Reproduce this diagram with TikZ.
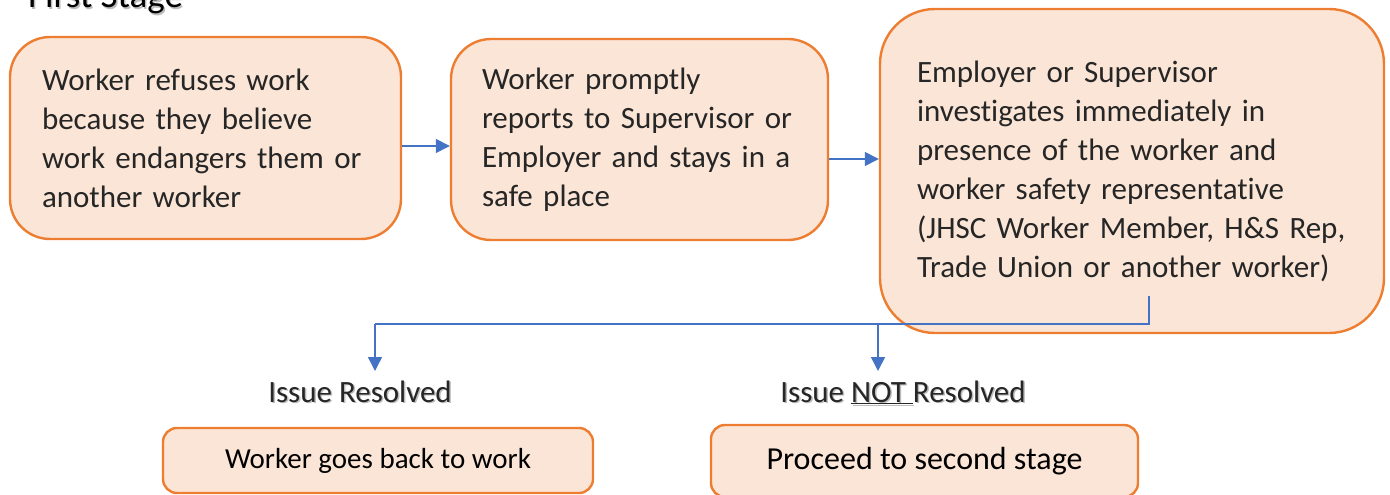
\documentclass[tikz,border=0pt]{standalone}
\usepackage{fontspec}
\setmainfont{Carlito}[Ligatures=CommonOff]
\usetikzlibrary{arrows.meta,calc}
\definecolor{boxfill}{HTML}{FBE5D6}
\definecolor{boxline}{HTML}{ED7D31}
\definecolor{flow}{HTML}{4472C4}
\definecolor{shade}{HTML}{BDBDBD}
\tikzset{
  stepbox/.style={draw=boxline, fill=boxfill, line width=2.4pt, align=left,
    inner xsep=0pt, inner ysep=0pt, font=\fontsize{31}{39}\selectfont, text=black!85},
  endbox/.style={draw=boxline, fill=boxfill, line width=2.4pt, rounded corners=14pt,
    inner sep=0pt, text=black},
  outcome/.style={inner sep=0pt, anchor=base, font=\fontsize{31}{37}\selectfont, text=black!85},
  outshadow/.style={inner sep=0pt, anchor=base, font=\fontsize{31}{37}\selectfont, text=shade},
  arr/.style={draw=flow, line width=1.5pt, -{Triangle[length=14pt,width=14pt]}},
  link/.style={draw=flow, line width=1.3pt},
}
\begin{document}
\begin{tikzpicture}[x=1pt,y=-1pt]
\useasboundingbox (0,0) rectangle (1390,495);

% title
\node[inner sep=0pt, anchor=base west, font=\fontsize{37}{40}\selectfont, text=shade] at (29.5,9.5) {First Stage};
\node[inner sep=0pt, anchor=base west, font=\fontsize{37}{40}\selectfont] (title) at (28,8) {First Stage};

% first-stage steps
\node[stepbox, rounded corners=40pt, minimum width=391pt, minimum height=202pt,
      text width=327pt, inner xsep=32pt] (refuse) at (205.5,138)
  {Worker refuses work\\because they believe\\work endangers them or\\another worker};
\node[stepbox, rounded corners=40pt, minimum width=377pt, minimum height=201pt,
      text width=315pt, inner xsep=31pt] (report) at (639.5,139.5)
  {Worker promptly\\reports to Supervisor or\\Employer and stays in a\\safe place};
\node[stepbox, rounded corners=55pt, minimum width=504pt, minimum height=324pt,
      text width=430pt, inner xsep=37pt] (investigate) at (1132,171)
  {Employer or Supervisor\\investigates immediately in\\presence of the worker and\\worker safety representative\\(JHSC Worker Member, H\&S Rep,\\Trade Union or another worker)};

% step arrows
\draw[arr] ([yshift=-8pt]refuse.east) -- ([yshift=-8pt]refuse.east -| report.west);
\draw[arr] ([yshift=-19.5pt]report.east) -- ([yshift=-19.5pt]report.east -| investigate.west);

% outcomes
\node[outshadow] at (361.5,403.5) {Issue Resolved};
\node[outcome] (resolved) at (360,402) {Issue Resolved};
\node[outshadow] at (904.5,403.5) {Issue \underline{NOT }Resolved};
\node[outcome] (notresolved) at (903,402) {Issue \underline{NOT }Resolved};

\node[endbox, minimum width=430pt, minimum height=65pt, font=\fontsize{29}{35}\selectfont]
  (back) at (378,460.5) {\raisebox{-2.5pt}{Worker goes back to work}};
\node[endbox, minimum width=427pt, minimum height=72pt, font=\fontsize{32}{38}\selectfont]
  (second) at (924.5,461) {\raisebox{-2pt}{Proceed to second stage}};

% branch from the investigation
\coordinate (split) at ([xshift=17pt,yshift=38pt]investigate.south);
\coordinate (junction) at (1149,324);
\coordinate (tipres) at (375,371);
\coordinate (tipnot) at (878,371);
\draw[link] (split) -- (junction) -- (junction -| tipres);
\draw[arr] (junction -| tipres) -- (tipres);
\draw[arr] (junction -| tipnot) -- (tipnot);
\end{tikzpicture}
\end{document}
